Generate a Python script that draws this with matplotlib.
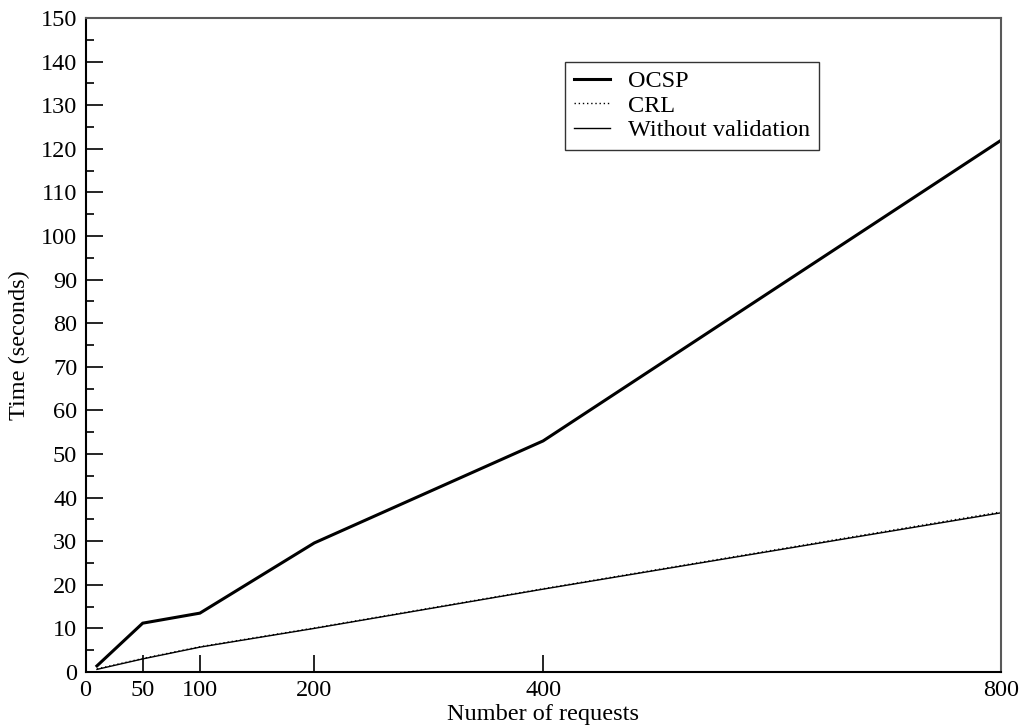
import matplotlib
matplotlib.use("Agg")
import matplotlib.pyplot as plt
from matplotlib.ticker import MultipleLocator, FixedLocator

requests = [10, 50, 100, 200, 400, 800]
ocsp = [1.4, 11.2, 13.5, 29.6, 53.0, 121.9]
crl = [0.7, 3.1, 5.8, 10.1, 19.1, 36.7]
without_validation = [0.6, 3.0, 5.7, 10.0, 19.0, 36.5]
xticks = [0, 50, 100, 200, 400, 800]

plt.rcParams['font.family'] = ['Liberation Serif', 'DejaVu Serif']
plt.rcParams['font.size'] = 17.5

fig = plt.figure(figsize=(10.21, 7.27), dpi=100)
ax = fig.add_axes([85.5 / 1021, 55 / 727, (1000.7 - 85.5) / 1021, (672 - 18) / 727])

ax.plot(requests, ocsp, color='black', lw=2.2, label='OCSP', solid_joinstyle='miter')
ax.plot(requests, without_validation, color='black', lw=1.0, label='Without validation')
ax.plot(requests, crl, color='black', lw=1.0, linestyle=(0, (1, 2)), label='CRL')

ax.set_xlim(0, 800)
ax.set_ylim(0, 150)
ax.xaxis.set_major_locator(FixedLocator(xticks))
ax.yaxis.set_major_locator(MultipleLocator(10))
ax.yaxis.set_minor_locator(MultipleLocator(5))

ax.tick_params(axis='both', which='major', direction='in', length=12, width=1.2, pad=6)
ax.tick_params(axis='y', which='minor', direction='in', length=6, width=1.2)
ax.tick_params(top=False, right=False)

for side in ['left', 'bottom']:
    ax.spines[side].set_linewidth(1.5)
    ax.spines[side].set_color('black')
for side in ['top', 'right']:
    ax.spines[side].set_linewidth(1.5)
    ax.spines[side].set_color('0.35')

ax.set_xlabel('Number of requests', labelpad=2)
ax.set_ylabel('Time (seconds)', labelpad=8)

handles, labels = ax.get_legend_handles_labels()
order = [0, 2, 1]
leg = ax.legend([handles[i] for i in order], [labels[i] for i in order],
                loc='upper left', bbox_to_anchor=(0.524, 0.933),
                frameon=True, fancybox=False, shadow=False,
                borderpad=0.35, borderaxespad=0, labelspacing=0.1,
                handlelength=1.5, handletextpad=0.75, fontsize=17.5)
leg.get_frame().set_edgecolor('black')
leg.get_frame().set_linewidth(1.0)

fig.savefig('out.png', dpi=100)
